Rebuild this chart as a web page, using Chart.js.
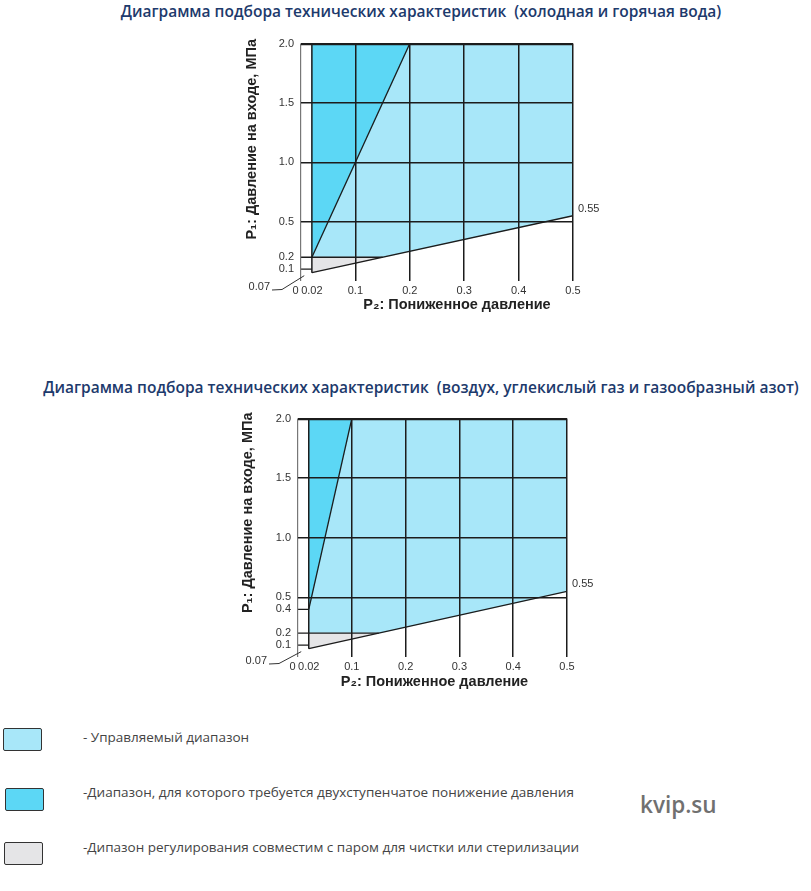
<!DOCTYPE html>
<html>
<head>
<meta charset="utf-8">
<script src="https://cdn.jsdelivr.net/npm/chart.js@4/dist/chart.umd.min.js"></script>
<style>
  html, body { margin: 0; padding: 0; background: #fff; }
  body { width: 811px; height: 891px; position: relative; overflow: hidden; font-family: "Open Sans", sans-serif; }
  .title { position: absolute; left: 421px; transform: translateX(-50%); white-space: nowrap;
           font-family: "Open Sans", sans-serif; font-weight: 600; font-size: 15.5px; line-height: 22px; color: #1d3a6c; }
  .chartbox { position: absolute; width: 370px; height: 290px; }
  .lbox { position: absolute; width: 37px; height: 21px; border: 1.6px solid #333; border-radius: 2px; box-sizing: content-box; }
  .ltext { position: absolute; left: 83px; white-space: nowrap; font-family: "Open Sans", sans-serif; font-size: 13.5px; line-height: 18px; color: #444; }
  .wm { position: absolute; left: 640px; top: 789px; font-family: "Open Sans", sans-serif; font-weight: 600; font-size: 22.5px; color: #707070; }
</style>
</head>
<body>
<div class="title" id="t1" style="top:0px"></div>
<div class="chartbox" style="left:230px; top:30px;"><canvas id="c1" width="370" height="290"></canvas></div>
<div class="title" id="t2" style="top:376px"></div>
<div class="chartbox" style="left:230px; top:405px;"><canvas id="c2" width="370" height="290"></canvas></div>

<div class="lbox" style="left:3px; top:728px; background:#a8e7f9;"></div>
<div class="ltext" id="l1" style="top:728px"></div>
<div class="lbox" style="left:5px; top:788px; background:#5cd7f5;"></div>
<div class="ltext" id="l2" style="top:783px"></div>
<div class="lbox" style="left:4px; top:842px; background:#e5e5e7;"></div>
<div class="ltext" id="l3" style="top:838px"></div>
<div class="wm">kvip.su</div>

<script>
// ---------- texts ----------
const titleWater = 'Диаграмма подбора технических характеристик\u00a0\u00a0(холодная и горячая вода)';
const titleGas = 'Диаграмма подбора технических характеристик\u00a0\u00a0(воздух, углекислый газ и газообразный азот)';
const legendLabels = ['- Управляемый диапазон',
  '-Диапазон, для которого требуется двухступенчатое понижение давления',
  '-Дипазон регулирования совместим с паром для чистки или стерилизации'];
const xTitle = 'P\u2082: Пониженное давление';
const yTitle = 'P\u2081: Давление на входе, МПа';

// ---------- ticks ----------
const xTicks = [0, 0.02, 0.1, 0.2, 0.3, 0.4, 0.5];
const xTickLabels = ['0\u2003', '0.02', '0.1', '0.2', '0.3', '0.4', '0.5'];
const yTicksWater = [0.1, 0.2, 0.5, 1.0, 1.5, 2.0];
const yTickLabelsWater = ['0.1', '0.2', '0.5', '1.0', '1.5', '2.0'];
const yTicksGas = [0.1, 0.2, 0.4, 0.5, 1.0, 1.5, 2.0];
const yTickLabelsGas = ['0.1', '0.2', '0.4', '0.5', '1.0', '1.5', '2.0'];
const yGridFull = [0.5, 1.0, 1.5, 2.0];
const xGridFull = [0.1, 0.2, 0.3, 0.4, 0.5];

// ---------- regions (P2 on x, P1 on y) : water ----------
const waterTwoStageP2 = [0.02, 0.02, 0.2, 0.02];
const waterTwoStageP1 = [0.2, 2.0, 2.0, 0.2];
const waterManagedP2 = [0.02, 0.2, 0.5, 0.5, 0.15, 0.02];
const waterManagedP1 = [0.2, 2.0, 2.0, 0.55, 0.2, 0.2];
const waterSteamP2 = [0.02, 0.02, 0.15, 0.02];
const waterSteamP1 = [0.07, 0.2, 0.2, 0.07];
const waterRatioP2 = [0.02, 0.2];
const waterRatioP1 = [0.2, 2.0];

// ---------- regions : gas ----------
const gasTwoStageP2 = [0.02, 0.02, 0.1, 0.02];
const gasTwoStageP1 = [0.4, 2.0, 2.0, 0.4];
const gasManagedP2 = [0.02, 0.02, 0.1, 0.5, 0.5, 0.15, 0.02];
const gasManagedP1 = [0.2, 0.4, 2.0, 2.0, 0.55, 0.2, 0.2];
const gasSteamP2 = [0.02, 0.02, 0.15, 0.02];
const gasSteamP1 = [0.07, 0.2, 0.2, 0.07];
const gasRatioP2 = [0.02, 0.1];
const gasRatioP1 = [0.4, 2.0];

// ---------- common boundary lines ----------
const minDiffP2 = [0.02, 0.5];       // lower limit P1 = P2 + 0.05
const minDiffP1 = [0.07, 0.55];
const leftLimitP2 = [0.02, 0.02];
const leftLimitP1 = [0.07, 2.0];
const steamTopP2 = [0, 0.15];
const steamTopP1 = [0.2, 0.2];
const shortTickP2 = [0, 0.02];

const cLight = '#a8e7f9';
const cDark = '#5cd7f5';
const cGray = '#e5e5e7';
const cLine = '#1c1c1c';

document.getElementById('t1').textContent = titleWater;
document.getElementById('t2').textContent = titleGas;
document.getElementById('l1').textContent = legendLabels[0];
document.getElementById('l2').textContent = legendLabels[1];
document.getElementById('l3').textContent = legendLabels[2];

const pts = (xs, ys) => xs.map((x, i) => ({x: x, y: ys[i]}));

function poly(xs, ys, color) {
  return {data: pts(xs, ys), backgroundColor: color, borderWidth: 0.6, borderColor: color,
          fill: 'shape', pointRadius: 0, tension: 0};
}
function seg(xs, ys, w) {
  return {data: pts(xs, ys), borderColor: cLine, borderWidth: w || 1.3, fill: false, pointRadius: 0, tension: 0};
}

const annotPlugin = {
  id: 'annot',
  afterDraw(chart, args, o) {
    const ctx = chart.ctx, a = chart.chartArea;
    const xs = chart.scales.x, ys = chart.scales.y;
    ctx.save();
    ctx.fillStyle = '#222';
    ctx.textBaseline = 'middle';
    ctx.textAlign = 'center';
    ctx.font = 'bold 14.5px "Liberation Sans", Arial, sans-serif';
    ctx.fillText(o.xTitle, (a.left + a.right) / 2 + o.xdx, a.bottom + o.xdy);
    ctx.save();
    ctx.translate(a.left + o.ydx, (a.top + a.bottom) / 2 + o.ydy);
    ctx.rotate(-Math.PI / 2);
    ctx.fillText(o.yTitle, 0, 0);
    ctx.restore();
    ctx.font = '11px "Liberation Sans", Arial, sans-serif';
    ctx.fillStyle = '#333';
    ctx.textAlign = 'left';
    ctx.fillText(o.endLabel, xs.getPixelForValue(o.endP2) + 5, ys.getPixelForValue(o.endP1) - 7);
    const x0 = xs.getPixelForValue(0), y0 = ys.getPixelForValue(0);
    ctx.textAlign = 'right';
    ctx.fillText(o.startLabel, x0 - 31, y0 + o.sdy);
    ctx.strokeStyle = '#333';
    ctx.lineWidth = 1;
    ctx.beginPath();
    ctx.moveTo(x0 - 29, y0 + o.sdy + 3);
    ctx.lineTo(x0 - 19, y0 + o.sdy + 2.5);
    ctx.lineTo(xs.getPixelForValue(0.006), ys.getPixelForValue(0.045));
    ctx.stroke();
    ctx.restore();
  }
};

function makeChart(id, cfg) {
  return new Chart(document.getElementById(id), {
    type: 'line',
    data: {datasets: cfg.datasets},
    plugins: [annotPlugin],
    options: {
      responsive: false,
      animation: false,
      events: [],
      layout: {padding: {top: cfg.padTop, right: cfg.padRight, left: 0, bottom: 0}},
      plugins: {
        legend: {display: false},
        tooltip: {enabled: false},
        annot: {xTitle: xTitle, yTitle: yTitle, xdx: cfg.xdx, xdy: cfg.xdy, ydx: cfg.ydx, ydy: cfg.ydy,
                endLabel: '0.55', endP2: 0.5, endP1: 0.55, startLabel: '0.07', sdy: cfg.sdy}
      },
      scales: {
        x: {
          type: 'linear', min: 0, max: 0.5,
          afterBuildTicks: s => { s.ticks = xTicks.map(v => ({value: v})); },
          afterFit: s => { s.height = cfg.xHeight; },
          border: {display: false},
          grid: {
            z: 1, drawTicks: false,
            color: c => xGridFull.includes(c.tick.value) ? cLine : (c.tick.value === 0 ? '#777777' : 'rgba(0,0,0,0)'),
            lineWidth: c => xGridFull.includes(c.tick.value) ? 1.5 : 1.2
          },
          ticks: {autoSkip: false, maxRotation: 0, padding: 3, color: '#333',
                  font: {family: '"Liberation Sans", Arial, sans-serif', size: 11},
                  callback: (v, i) => xTickLabels[i]}
        },
        y: {
          type: 'linear', min: 0, max: 2.0,
          afterBuildTicks: s => { s.ticks = cfg.yTicks.map(v => ({value: v})); },
          afterFit: s => { s.width = cfg.yWidth; },
          border: {display: false},
          grid: {
            z: 1, drawTicks: false,
            color: c => yGridFull.includes(c.tick.value) ? cLine : 'rgba(0,0,0,0)',
            lineWidth: c => c.tick.value === 2.0 ? 2.2 : 1.5
          },
          ticks: {autoSkip: false, padding: 7, color: '#333',
                  font: {family: '"Liberation Sans", Arial, sans-serif', size: 11},
                  callback: (v, i) => cfg.yTickLabels[i]}
        }
      }
    }
  });
}

// datasets are drawn from last to first: boundary lines first in the list so they end on top
makeChart('c1', {
  yTicks: yTicksWater, yTickLabels: yTickLabelsWater,
  padTop: 10, padRight: 27, yWidth: 71, xHeight: 39,
  xdx: 20, xdy: 24, ydx: -49, ydy: -23, sdy: 6,
  datasets: [
    seg(minDiffP2, minDiffP1),
    seg(waterRatioP2, waterRatioP1),
    seg(leftLimitP2, leftLimitP1, 1.5),
    seg(steamTopP2, steamTopP1, 1.3),
    seg(shortTickP2, [0.1, 0.1], 1.2),
    poly(waterTwoStageP2, waterTwoStageP1, cDark),
    poly(waterSteamP2, waterSteamP1, cGray),
    poly(waterManagedP2, waterManagedP1, cLight)
  ]
});

makeChart('c2', {
  yTicks: yTicksGas, yTickLabels: yTickLabelsGas,
  padTop: 12, padRight: 33, yWidth: 68, xHeight: 38,
  xdx: 2, xdy: 25, ydx: -50, ydy: -25, sdy: 4,
  datasets: [
    seg(minDiffP2, minDiffP1),
    seg(gasRatioP2, gasRatioP1),
    seg(leftLimitP2, leftLimitP1, 1.5),
    seg(steamTopP2, steamTopP1, 1.3),
    seg(shortTickP2, [0.1, 0.1], 1.2),
    seg(shortTickP2, [0.4, 0.4], 1.2),
    poly(gasTwoStageP2, gasTwoStageP1, cDark),
    poly(gasSteamP2, gasSteamP1, cGray),
    poly(gasManagedP2, gasManagedP1, cLight)
  ]
});
</script>
</body>
</html>
